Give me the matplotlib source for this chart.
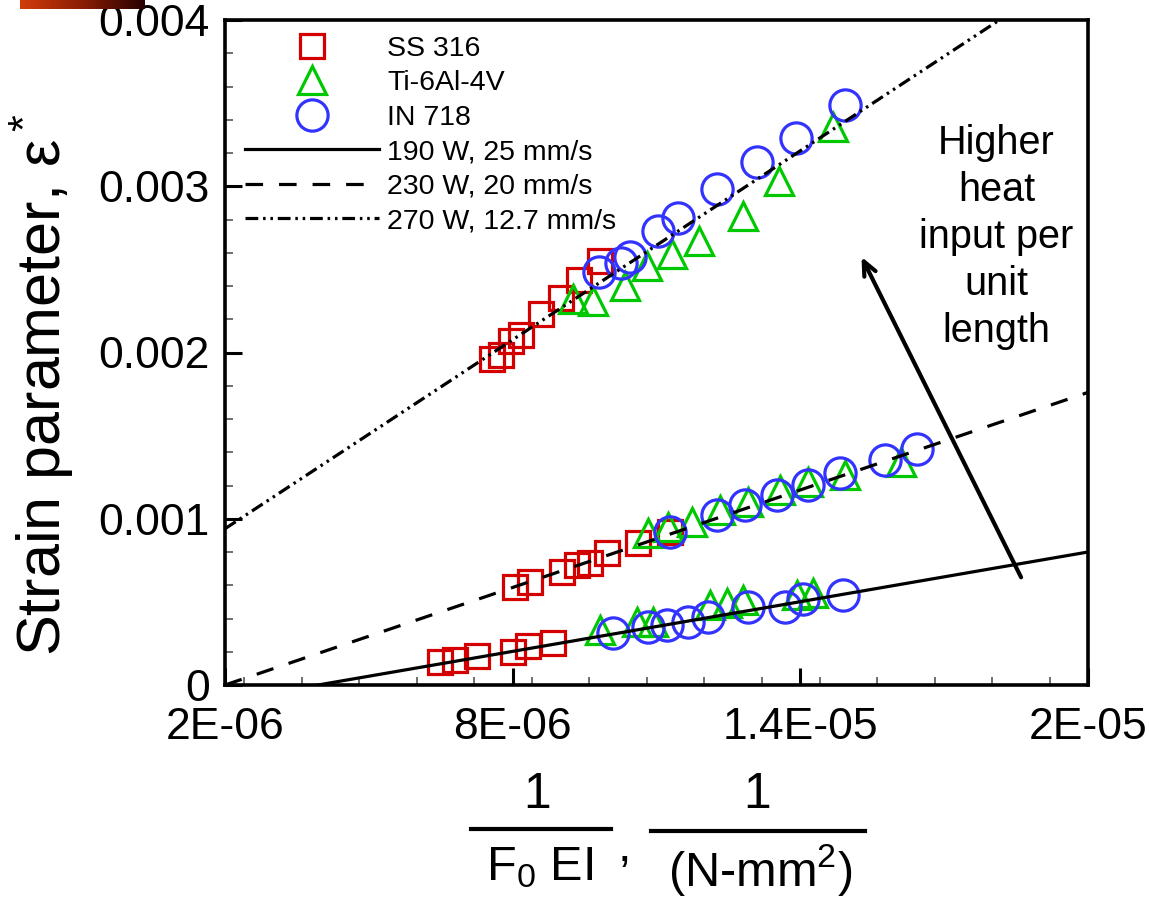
import numpy as np
import matplotlib
matplotlib.use('Agg')
import matplotlib.pyplot as plt
from matplotlib.lines import Line2D
from matplotlib.ticker import FixedLocator, MultipleLocator, FuncFormatter
from matplotlib.colors import LinearSegmentedColormap

plt.rcParams['font.family'] = ['Liberation Sans', 'DejaVu Sans']
plt.rcParams['mathtext.fontset'] = 'custom'
plt.rcParams['mathtext.rm'] = 'Liberation Sans'
plt.rcParams['mathtext.it'] = 'Liberation Sans'
plt.rcParams['mathtext.default'] = 'regular'

# x values in units of 1E-06, y values in units of 1E-03
# 270 W, 12.7 mm/s group
ss_hi_x = [7.57, 7.76, 7.97, 8.18, 8.59, 9.01, 9.39, 9.83]
ss_hi_y = [1.958, 1.982, 2.072, 2.108, 2.229, 2.325, 2.434, 2.548]
ti_hi_x = [9.26, 9.68, 10.35, 10.81, 11.33, 11.89, 12.81, 13.56, 14.69]
ti_hi_y = [2.319, 2.31, 2.398, 2.518, 2.590, 2.669, 2.819, 3.030, 3.355]
in_hi_x = [9.80, 10.26, 10.45, 11.04, 11.45, 12.27, 13.10, 13.92, 14.94]
in_hi_y = [2.482, 2.536, 2.572, 2.729, 2.807, 2.982, 3.145, 3.289, 3.488]

# 230 W, 20 mm/s group
ss_mid_x = [8.05, 8.36, 9.03, 9.35, 9.62, 9.97, 10.62, 11.29]
ss_mid_y = [0.590, 0.620, 0.681, 0.723, 0.735, 0.795, 0.855, 0.922]
ti_mid_x = [10.83, 11.24, 11.75, 12.33, 12.91, 13.58, 14.15, 14.94, 16.09]
ti_mid_y = [0.916, 0.952, 0.982, 1.054, 1.102, 1.175, 1.223, 1.265, 1.343]
in_mid_x = [11.29, 12.27, 12.85, 13.52, 14.17, 14.83, 15.77, 16.44]
in_mid_y = [0.922, 1.024, 1.084, 1.145, 1.205, 1.277, 1.355, 1.422]

# 190 W, 25 mm/s group
ss_lo_x = [6.49, 6.80, 7.26, 8.01, 8.32, 8.84]
ss_lo_y = [0.139, 0.151, 0.175, 0.199, 0.235, 0.253]
ti_lo_x = [9.83, 10.60, 10.93, 12.12, 12.48, 12.81, 13.94, 14.27]
ti_lo_y = [0.331, 0.380, 0.380, 0.482, 0.494, 0.512, 0.542, 0.554]
in_lo_x = [10.10, 10.83, 11.22, 11.66, 12.08, 12.91, 13.69, 14.06, 14.90]
in_lo_y = [0.313, 0.349, 0.361, 0.380, 0.410, 0.470, 0.470, 0.518, 0.542]

# fitted lines, ends at x = 2E-06 and 2E-05
fit_x = [2.0, 20.0]
fit_190 = [-0.0966, 0.80]
fit_230 = [0.0, 1.76]
fit_270 = [0.94, 4.35]

xs = 1e-6
ys = 1e-3

red = '#D40000'
green = '#00C800'
blue = '#3333FF'

fig = plt.figure(figsize=(11.49, 9.01), dpi=100)
ax = fig.add_axes([225/1149, 1-685/901, 863/1149, 665/901])

mk = dict(linestyle='none', markerfacecolor='none', markeredgewidth=2.3)
ms_s, ms_t, ms_o = 17, 19.5, 22.5
ax.plot(np.array(ss_hi_x)*xs, np.array(ss_hi_y)*ys, marker='s', ms=ms_s, color=red, **mk)
ax.plot(np.array(ss_mid_x)*xs, np.array(ss_mid_y)*ys, marker='s', ms=ms_s, color=red, **mk)
ax.plot(np.array(ss_lo_x)*xs, np.array(ss_lo_y)*ys, marker='s', ms=ms_s, color=red, **mk)
ax.plot(np.array(ti_hi_x)*xs, np.array(ti_hi_y)*ys, marker='^', ms=ms_t, color=green, **mk)
ax.plot(np.array(ti_mid_x)*xs, np.array(ti_mid_y)*ys, marker='^', ms=ms_t, color=green, **mk)
ax.plot(np.array(ti_lo_x)*xs, np.array(ti_lo_y)*ys, marker='^', ms=ms_t, color=green, **mk)
ax.plot(np.array(in_hi_x)*xs, np.array(in_hi_y)*ys, marker='o', ms=ms_o, color=blue, **mk)
ax.plot(np.array(in_mid_x)*xs, np.array(in_mid_y)*ys, marker='o', ms=ms_o, color=blue, **mk)
ax.plot(np.array(in_lo_x)*xs, np.array(in_lo_y)*ys, marker='o', ms=ms_o, color=blue, **mk)

dash_230 = (5.5, 5)
dash_270 = (4, 1.5, 0.8, 1.5, 0.8, 1.5)
fx = np.array(fit_x)*xs
ax.plot(fx, np.array(fit_190)*ys, color='black', lw=2.3)
ax.plot(fx, np.array(fit_230)*ys, color='black', lw=2.3, dashes=dash_230)
ax.plot(fx, np.array(fit_270)*ys, color='black', lw=2.3, dashes=dash_270)

ax.set_xlim(2e-6, 2e-5)
ax.set_ylim(0, 0.004)
xlabels = ['2E-06', '8E-06', '1.4E-05', '2E-05']
ax.xaxis.set_major_locator(FixedLocator([2e-6, 8e-6, 1.4e-5, 2e-5]))
ax.xaxis.set_minor_locator(MultipleLocator(1.2e-6))
ax.xaxis.set_major_formatter(FuncFormatter(lambda v, p: xlabels[p]))
ax.yaxis.set_major_locator(MultipleLocator(0.001))
ax.yaxis.set_minor_locator(MultipleLocator(0.0002))
ax.yaxis.set_major_formatter(FuncFormatter(lambda v, p: '0' if abs(v) < 1e-9 else '%.3f' % v))
ax.tick_params(which='both', direction='in', top=False, right=False, labelsize=32)
ax.tick_params(which='major', length=12, width=2.2)
ax.tick_params(which='minor', length=6, width=1.2, color='#555555')
ax.tick_params(axis='x', pad=16)
ax.tick_params(axis='y', pad=11)
for s in ax.spines.values():
    s.set_linewidth(2.6)

fig.text(42/1149, 1-385/901, r'Strain parameter, $\mathregular{\varepsilon^*}$', fontsize=44,
         rotation=90, ha='center', va='center')

# legend
handles = [
    Line2D([], [], marker='s', ms=ms_s, color=red, **mk),
    Line2D([], [], marker='^', ms=ms_t, color=green, **mk),
    Line2D([], [], marker='o', ms=ms_o, color=blue, **mk),
    Line2D([], [], color='black', lw=2.3),
    Line2D([], [], color='black', lw=2.3, dashes=dash_230),
    Line2D([], [], color='black', lw=2.3, dashes=dash_270),
]
labels = ['SS 316', 'Ti-6Al-4V', 'IN 718', '190 W, 25 mm/s', '230 W, 20 mm/s', '270 W, 12.7 mm/s']
ax.legend(handles, labels, loc='upper left', bbox_to_anchor=(0.005, 1.0), frameon=False,
          fontsize=20.5, handlelength=4.7, handletextpad=0.3, labelspacing=0.3,
          borderaxespad=0, borderpad=0.55, numpoints=1)

# arrow and note
ax.annotate('', xy=(15.25e-6, 2.59e-3), xytext=(18.63e-6, 0.633e-3),
            arrowprops=dict(arrowstyle='->,head_length=1.0,head_width=0.45', lw=3, color='black'))
ax.text(18.09e-6, 2.693e-3, 'Higher\nheat\ninput per\nunit\nlength', fontsize=28.5,
        ha='center', va='center', linespacing=1.3)

# x label as a fraction pair
fig.text(537/1149, 1-795/901, '1', fontsize=36, ha='center', va='center')
fig.text(757/1149, 1-795/901, '1', fontsize=36, ha='center', va='center')
fig.add_artist(Line2D([471/1149, 611/1149], [1-829/901, 1-829/901], color='black', lw=3))
fig.add_artist(Line2D([651/1149, 865/1149], [1-831/901, 1-831/901], color='black', lw=3))
fig.text(540/1149, 1-868/901, r'F$_0$ EI', fontsize=35, ha='center', va='center')
fig.text(624/1149, 1-861/901, ',', fontsize=35, ha='center', va='baseline')
fig.text(760/1149, 1-870/901, r'(N-mm$^2$)', fontsize=35, ha='center', va='center')

# decorative slide bar top left
bar = fig.add_axes([20/1149, 1-9/901, 125/1149, 9/901])
grad = np.linspace(0, 1, 256).reshape(1, -1)
cm = LinearSegmentedColormap.from_list('bar', ['#D23C0A', '#8A1E05', '#280000'])
bar.imshow(grad, aspect='auto', cmap=cm)
bar.axis('off')

fig.savefig('out.png', dpi=100)
